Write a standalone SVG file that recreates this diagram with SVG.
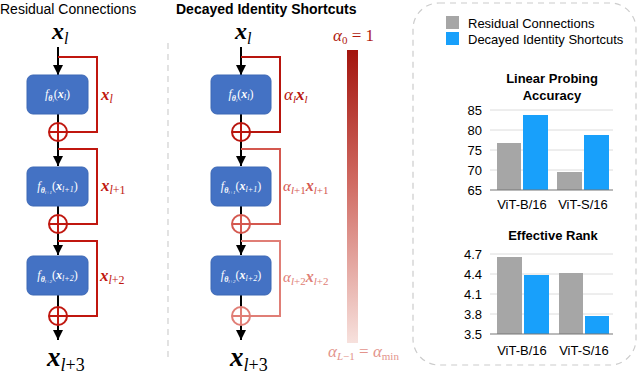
<svg xmlns="http://www.w3.org/2000/svg" width="640" height="375" viewBox="0 0 640 375">
<defs>
<marker id="ah" markerUnits="userSpaceOnUse" markerWidth="10" markerHeight="10" refX="10" refY="5" orient="auto"><path d="M0,0 L10,5 L0,10 z" fill="#000"/></marker>
<linearGradient id="grad" x1="0" y1="0" x2="0" y2="1">
<stop offset="0" stop-color="#a3150e"/>
<stop offset="0.45" stop-color="#d06a62"/>
<stop offset="1" stop-color="#f7e1dd"/>
</linearGradient>
<style>
.t{font-family:"Liberation Sans",Arial,sans-serif;font-size:14px;fill:#000}
.tb{font-family:"Liberation Sans",Arial,sans-serif;font-size:14px;font-weight:bold;fill:#000}
.box{fill:#4472c4;stroke:#3d68b5;stroke-width:1}
.bx{font-family:"Liberation Serif","Times New Roman",serif;font-size:12px;fill:#fff;font-style:italic}
.blk{stroke:#000;stroke-width:2;fill:none}
.m{font-family:"Liberation Serif","Times New Roman",serif;font-style:italic}
.loop{fill:none;stroke-width:2}
.leg{font-family:"Liberation Sans",Arial,sans-serif;font-size:13px;fill:#000}
.ct{font-family:"Liberation Sans",Arial,sans-serif;font-size:13px;font-weight:bold;fill:#000}
.tk{font-family:"Liberation Sans",Arial,sans-serif;font-size:13px;fill:#000;text-anchor:end}
.xl{font-family:"Liberation Sans",Arial,sans-serif;font-size:13px;fill:#000;text-anchor:middle}
.grid{stroke:#dcdcdc;stroke-width:1}
.axis{stroke:#777;stroke-width:1.2}
.gray{fill:#a6a6a6}
.blue{fill:#18a0fb}
</style>
</defs>

<text class="t" x="0" y="14">Residual Connections</text>
<text class="tb" x="176" y="14">Decayed Identity Shortcuts</text>
<line x1="168" y1="43" x2="168" y2="362" stroke="#d0d0d0" stroke-width="1.2" stroke-dasharray="6,5"/>

<g id="connectors">
<line class="blk" x1="58" y1="47" x2="58" y2="75" marker-end="url(#ah)"/>
<line class="blk" x1="58" y1="114" x2="58" y2="166" marker-end="url(#ah)"/>
<line class="blk" x1="58" y1="206" x2="58" y2="255" marker-end="url(#ah)"/>
<line class="blk" x1="58" y1="295" x2="58" y2="340" marker-end="url(#ah)"/>
<path class="loop" stroke="#c0170f" d="M58,57 H97 V132 H67"/>
<path class="loop" stroke="#c0170f" d="M58,149 H97 V224 H67"/>
<path class="loop" stroke="#c0170f" d="M58,241 H97 V316 H67"/>
<line class="blk" x1="241" y1="47" x2="241" y2="75" marker-end="url(#ah)"/>
<line class="blk" x1="241" y1="114" x2="241" y2="166" marker-end="url(#ah)"/>
<line class="blk" x1="241" y1="206" x2="241" y2="255" marker-end="url(#ah)"/>
<line class="blk" x1="241" y1="295" x2="241" y2="340" marker-end="url(#ah)"/>
<path class="loop" stroke="#b8150e" d="M241,57 H280 V132 H250"/>
<path class="loop" stroke="#d4584f" d="M241,149 H280 V224 H250"/>
<path class="loop" stroke="#e07e76" d="M241,241 H280 V316 H250"/>
</g>

<g id="sum-left" fill="none" stroke="#c0170f" stroke-width="2">
<circle cx="58" cy="132" r="9"/><line x1="49" y1="132" x2="67" y2="132"/><line x1="58" y1="123" x2="58" y2="141"/>
<circle cx="58" cy="224" r="9"/><line x1="49" y1="224" x2="67" y2="224"/><line x1="58" y1="215" x2="58" y2="233"/>
<circle cx="58" cy="316" r="9"/><line x1="49" y1="316" x2="67" y2="316"/><line x1="58" y1="307" x2="58" y2="325"/>
</g>
<g id="sum-mid" fill="none" stroke-width="2">
<g stroke="#b8150e"><circle cx="241" cy="132" r="9"/><line x1="232" y1="132" x2="250" y2="132"/><line x1="241" y1="123" x2="241" y2="141"/></g>
<g stroke="#d4584f"><circle cx="241" cy="224" r="9"/><line x1="232" y1="224" x2="250" y2="224"/><line x1="241" y1="215" x2="241" y2="233"/></g>
<g stroke="#e07e76"><circle cx="241" cy="316" r="9"/><line x1="232" y1="316" x2="250" y2="316"/><line x1="241" y1="307" x2="241" y2="325"/></g>
</g>

<g id="xl-left"><text class="m" x="52" y="39" font-size="24" font-weight="bold">x<tspan font-size="16" font-weight="normal" dy="5">l</tspan></text></g>
<g id="f1-left"><rect class="box" x="27" y="75" width="61" height="39" rx="6"/>
<text class="bx" x="57.5" y="98" text-anchor="middle">f<tspan font-size="8" font-weight="bold" dy="3">θ</tspan><tspan font-size="5" dy="1">l</tspan><tspan dy="-4" font-style="normal">(</tspan><tspan font-weight="bold">x</tspan><tspan font-size="8" dy="2">l</tspan><tspan dy="-2" font-style="normal">)</tspan></text></g>
<g id="f2-left"><rect class="box" x="27" y="167" width="61" height="39" rx="6"/>
<text class="bx" x="57.5" y="190" text-anchor="middle">f<tspan font-size="8" font-weight="bold" dy="3">θ</tspan><tspan font-size="5" dy="1">l+1</tspan><tspan dy="-4" font-style="normal">(</tspan><tspan font-weight="bold">x</tspan><tspan font-size="8" dy="2">l+1</tspan><tspan dy="-2" font-style="normal">)</tspan></text></g>
<g id="f3-left"><rect class="box" x="27" y="256" width="61" height="39" rx="6"/>
<text class="bx" x="57.5" y="279" text-anchor="middle">f<tspan font-size="8" font-weight="bold" dy="3">θ</tspan><tspan font-size="5" dy="1">l+2</tspan><tspan dy="-4" font-style="normal">(</tspan><tspan font-weight="bold">x</tspan><tspan font-size="8" dy="2">l+2</tspan><tspan dy="-2" font-style="normal">)</tspan></text></g>
<g id="xl3-left"><text class="m" x="47" y="366" font-size="27" font-weight="bold">x<tspan font-size="18" font-weight="normal" font-style="normal" dy="5"><tspan font-style="italic">l</tspan>+3</tspan></text></g>
<g id="lbl-left" fill="#c0170f">
<text class="m" x="101" y="100" font-size="17" font-weight="bold">x<tspan font-size="12" font-weight="normal" dy="3">l</tspan></text>
<text class="m" x="101" y="191" font-size="17" font-weight="bold">x<tspan font-size="12" font-weight="normal" dy="3">l<tspan font-style="normal">+1</tspan></tspan></text>
<text class="m" x="100" y="281" font-size="17" font-weight="bold">x<tspan font-size="12" font-weight="normal" dy="3">l<tspan font-style="normal">+2</tspan></tspan></text>
</g>

<g id="xl-mid"><text class="m" x="235" y="39" font-size="24" font-weight="bold">x<tspan font-size="16" font-weight="normal" dy="5">l</tspan></text></g>
<g id="f1-mid"><rect class="box" x="211" y="75" width="60" height="39" rx="6"/>
<text class="bx" x="241" y="98" text-anchor="middle">f<tspan font-size="8" font-weight="bold" dy="3">θ</tspan><tspan font-size="5" dy="1">l</tspan><tspan dy="-4" font-style="normal">(</tspan><tspan font-weight="bold">x</tspan><tspan font-size="8" dy="2">l</tspan><tspan dy="-2" font-style="normal">)</tspan></text></g>
<g id="f2-mid"><rect class="box" x="211" y="167" width="60" height="39" rx="6"/>
<text class="bx" x="241" y="190" text-anchor="middle">f<tspan font-size="8" font-weight="bold" dy="3">θ</tspan><tspan font-size="5" dy="1">l+1</tspan><tspan dy="-4" font-style="normal">(</tspan><tspan font-weight="bold">x</tspan><tspan font-size="8" dy="2">l+1</tspan><tspan dy="-2" font-style="normal">)</tspan></text></g>
<g id="f3-mid"><rect class="box" x="211" y="256" width="60" height="39" rx="6"/>
<text class="bx" x="241" y="279" text-anchor="middle">f<tspan font-size="8" font-weight="bold" dy="3">θ</tspan><tspan font-size="5" dy="1">l+2</tspan><tspan dy="-4" font-style="normal">(</tspan><tspan font-weight="bold">x</tspan><tspan font-size="8" dy="2">l+2</tspan><tspan dy="-2" font-style="normal">)</tspan></text></g>
<g id="xl3-mid"><text class="m" x="230" y="366" font-size="27" font-weight="bold">x<tspan font-size="18" font-weight="normal" font-style="normal" dy="5"><tspan font-style="italic">l</tspan>+3</tspan></text></g>
<g id="lbl-mid">
<text class="m" x="284" y="100" font-size="17" fill="#b8150e">α<tspan font-size="11" dy="3">l</tspan><tspan font-weight="bold" dy="-3">x</tspan><tspan font-size="11" dy="3">l</tspan></text>
<text class="m" x="283" y="191" font-size="15" fill="#d4584f">α<tspan font-size="11" dy="3">l<tspan font-style="normal">+1</tspan></tspan><tspan font-weight="bold" dy="-3" font-size="16">x</tspan><tspan font-size="11" dy="3">l<tspan font-style="normal">+1</tspan></tspan></text>
<text class="m" x="283" y="282" font-size="15" fill="#e07e76">α<tspan font-size="11" dy="3">l<tspan font-style="normal">+2</tspan></tspan><tspan font-weight="bold" dy="-3" font-size="16">x</tspan><tspan font-size="11" dy="3">l<tspan font-style="normal">+2</tspan></tspan></text>
</g>

<g id="alpha-bar">
<text class="m" x="333" y="41" font-size="17" fill="#b01a10">α<tspan font-size="11" font-style="normal" dy="3">0</tspan><tspan font-style="normal" dy="-3"> = 1</tspan></text>
<rect x="347" y="50" width="11" height="293" fill="url(#grad)"/>
<text class="m" x="328" y="357" font-size="17" fill="#e3948c">α<tspan font-size="11" dy="3">L<tspan font-style="normal">−1</tspan></tspan><tspan font-style="normal" dy="-3"> = </tspan>α<tspan font-size="11" font-style="normal" dy="3">min</tspan></text>
</g>

<g id="panel">
<rect x="413" y="3" width="223" height="362" rx="26" fill="none" stroke="#cccccc" stroke-width="1.2" stroke-dasharray="6,5"/>
</g>
<g id="legend">
<rect class="gray" x="446" y="16" width="13" height="13"/>
<text class="leg" x="468" y="28">Residual Connections</text>
<rect class="blue" x="446" y="32" width="13" height="13"/>
<text class="leg" x="468" y="44">Decayed Identity Shortcuts</text>
</g>

<g id="chart-accuracy">
<text class="ct" x="552" y="83" text-anchor="middle">Linear Probing</text>
<text class="ct" x="552" y="100" text-anchor="middle">Accuracy</text>
<line class="grid" x1="490" y1="110" x2="613" y2="110"/>
<line class="grid" x1="490" y1="130" x2="613" y2="130"/>
<line class="grid" x1="490" y1="150" x2="613" y2="150"/>
<line class="grid" x1="490" y1="170" x2="613" y2="170"/>
<rect class="gray" x="497" y="143" width="24" height="47"/>
<rect class="blue" x="523" y="115" width="25" height="75"/>
<rect class="gray" x="557" y="172" width="25" height="18"/>
<rect class="blue" x="584" y="135" width="25" height="55"/>
<line class="axis" x1="490" y1="190" x2="613" y2="190"/>
<text class="tk" x="482" y="115">85</text>
<text class="tk" x="482" y="135">80</text>
<text class="tk" x="482" y="155">75</text>
<text class="tk" x="482" y="175">70</text>
<text class="tk" x="482" y="195">65</text>
<text class="xl" x="522" y="209">ViT-B/16</text>
<text class="xl" x="583" y="209">ViT-S/16</text>
</g>

<g id="chart-rank">
<text class="ct" x="553" y="240" text-anchor="middle">Effective Rank</text>
<line class="grid" x1="490" y1="254" x2="613" y2="254"/>
<line class="grid" x1="490" y1="274" x2="613" y2="274"/>
<line class="grid" x1="490" y1="294" x2="613" y2="294"/>
<line class="grid" x1="490" y1="314" x2="613" y2="314"/>
<rect class="gray" x="497" y="257" width="25" height="77"/>
<rect class="blue" x="524" y="275" width="25" height="59"/>
<rect class="gray" x="559" y="273" width="24" height="61"/>
<rect class="blue" x="585" y="316" width="24" height="18"/>
<line class="axis" x1="490" y1="334" x2="613" y2="334"/>
<text class="tk" x="482" y="259">4.7</text>
<text class="tk" x="482" y="279">4.4</text>
<text class="tk" x="482" y="299">4.1</text>
<text class="tk" x="482" y="319">3.8</text>
<text class="tk" x="482" y="339">3.5</text>
<text class="xl" x="522" y="355">ViT-B/16</text>
<text class="xl" x="584" y="355">ViT-S/16</text>
</g>
</svg>
